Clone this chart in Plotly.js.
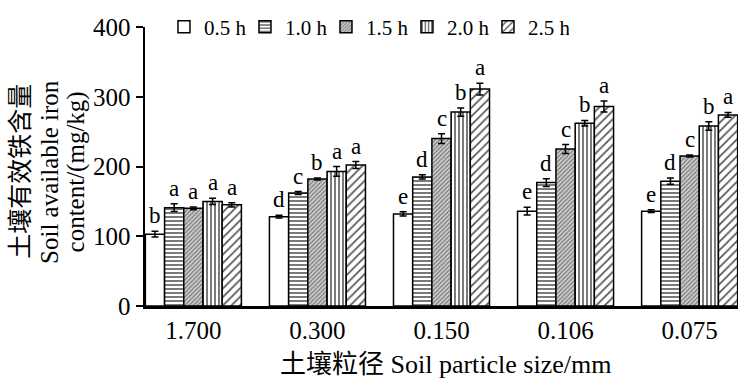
<!DOCTYPE html>
<html>
<head>
<meta charset="utf-8">
<script src="https://cdn.plot.ly/plotly-3.0.1.min.js"></script>
<style>html,body{margin:0;padding:0;background:#fff;}</style>
</head>
<body>
<div id="chart" style="width:744px;height:384px;"></div>
<script>
// Data
const sizes = ["1.700", "0.300", "0.150", "0.106", "0.075"];
const seriesNames = ["0.5 h", "1.0 h", "1.5 h", "2.0 h", "2.5 h"];
const v05 = [103, 128, 132, 136, 136];
const v10 = [141, 162, 185, 177, 179];
const v15 = [140, 182, 240, 225, 215];
const v20 = [150, 193, 278, 262, 258];
const v25 = [145, 202, 311, 286, 274];
const e05 = [4, 2, 3, 5.5, 2];
const e10 = [5.5, 2, 3, 5.5, 4.5];
const e15 = [2, 1.5, 7, 6.5, 1.5];
const e20 = [4.5, 7, 6, 4, 6];
const e25 = [3, 5, 8.5, 8, 3.5];
const l05 = ["b", "d", "e", "e", "e"];
const l10 = ["a", "c", "d", "d", "d"];
const l15 = ["a", "b", "c", "c", "c"];
const l20 = ["a", "a", "b", "b", "b"];
const l25 = ["a", "a", "a", "a", "a"];

const values = [v05, v10, v15, v20, v25];
const errors = [e05, e10, e15, e20, e25];
const letters = [l05, l10, l15, l20, l25];

const FONT = "Liberation Serif, 'Noto Sans CJK SC', serif";
const patterns = [
  {shape: "", bgcolor: "#ffffff"},
  {shape: "-", fgcolor: "#222", bgcolor: "#fff", size: 4, solidity: 0.3},
  {shape: "/", fgcolor: "#777", bgcolor: "#d0d0d0", size: 3, solidity: 0.4},
  {shape: "|", fgcolor: "#222", bgcolor: "#fff", size: 4, solidity: 0.3},
  {shape: "/", fgcolor: "#555", bgcolor: "#fff", size: 6, solidity: 0.28}
];

const traces = seriesNames.map((name, k) => ({
  type: "bar",
  name: name,
  x: sizes,
  y: values[k],
  marker: {
    color: "#ffffff",
    line: {color: "#000", width: 1.5},
    pattern: patterns[k]
  },
  error_y: {type: "data", array: errors[k], visible: true, color: "#000", thickness: 1.5, width: 3.5}
}));

const bargap = 0.226;
const barW = (1 - bargap) / seriesNames.length;
const annotations = [];
for (let k = 0; k < seriesNames.length; k++) {
  for (let i = 0; i < sizes.length; i++) {
    annotations.push({
      x: i + (k - 2) * barW, xref: "x",
      y: values[k][i] + errors[k][i], yref: "y",
      text: letters[k][i], showarrow: false,
      yanchor: "bottom", yshift: 1,
      font: {family: FONT, size: 23, color: "#000"}
    });
  }
}
// y-axis title (three lines)
const yTitle = ["土壤有效铁含量", "Soil available iron", "content/(mg/kg)"];
const yTitleX = [-0.209, -0.160, -0.117];
yTitle.forEach((t, j) => annotations.push({
  text: t, xref: "paper", yref: "paper", x: yTitleX[j], y: 0.481,
  xanchor: "center", yanchor: "middle", textangle: -90, showarrow: false,
  font: {family: FONT, size: 25, color: "#000"}
}));
annotations.push({
  text: "土壤粒径 Soil particle size/mm", xref: "paper", yref: "paper",
  x: 0.506, y: -0.21, xanchor: "center", yanchor: "middle", showarrow: false,
  font: {family: FONT, size: 26, color: "#000"}
});

const layout = {
  width: 744, height: 384,
  margin: {l: 145, r: 6, t: 17, b: 78},
  paper_bgcolor: "#fff", plot_bgcolor: "#fff",
  barmode: "group", bargap: bargap, bargroupgap: 0,
  showlegend: true,
  legend: {
    orientation: "h", x: 0.032, y: 1.0, xanchor: "left", yanchor: "middle",
    font: {family: FONT, size: 21, color: "#000"},
    itemwidth: 30, entrywidth: 36, entrywidthmode: "pixels",
    tracegroupgap: 0, bgcolor: "rgba(0,0,0,0)"
  },
  xaxis: {
    type: "category", range: [-0.39, 4.39],
    showline: true, linecolor: "#000", linewidth: 2.5,
    ticks: "", showgrid: false, zeroline: false,
    tickfont: {family: FONT, size: 25, color: "#000"}
  },
  yaxis: {
    range: [0, 400], dtick: 100, tick0: 0,
    showline: true, linecolor: "#000", linewidth: 2.5,
    ticks: "outside", ticklen: 7, tickwidth: 2, tickcolor: "#000",
    showgrid: false, zeroline: false,
    tickfont: {family: FONT, size: 25, color: "#000"}
  },
  annotations: annotations
};

Plotly.newPlot("chart", traces, layout, {displayModeBar: false, staticPlot: true});
</script>
</body>
</html>
